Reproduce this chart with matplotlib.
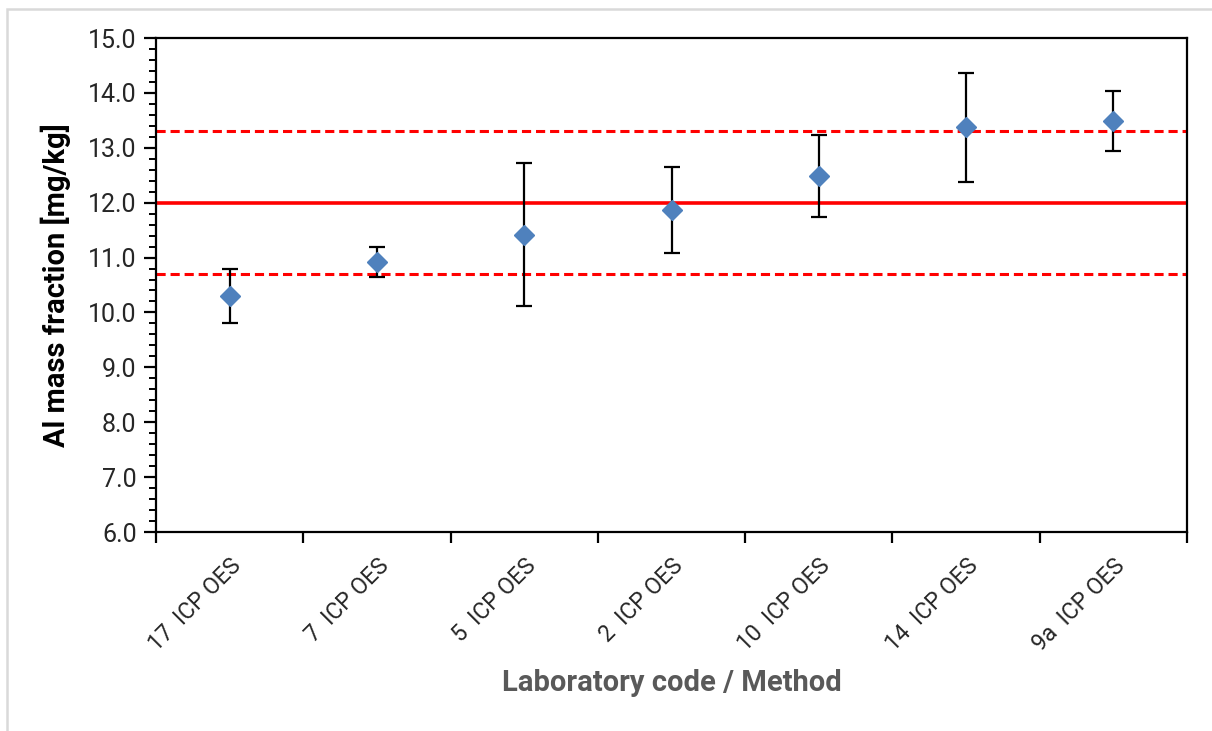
import matplotlib
matplotlib.use("Agg")
import matplotlib.pyplot as plt
from matplotlib.patches import Rectangle
from matplotlib.ticker import MultipleLocator, FixedLocator, NullFormatter, FormatStrFormatter

labs = ["17  ICP OES", "7  ICP OES", "5  ICP OES", "2  ICP OES",
        "10  ICP OES", "14  ICP OES", "9a  ICP OES"]
values = [10.30, 10.92, 11.42, 11.87, 12.49, 13.37, 13.49]
uncert = [0.49, 0.27, 1.30, 0.78, 0.75, 1.00, 0.54]
assigned = 12.0
lower_lim = 10.7
upper_lim = 13.3

plt.rcParams['font.family'] = ['Roboto', 'DejaVu Sans']

fig = plt.figure(figsize=(12.12, 7.31), dpi=100)
fig.patches.append(Rectangle((7/1212, -0.05), 1.1, 1 - 9/731 + 0.05, transform=fig.transFigure,
                             fill=False, edgecolor='#d9d9d9', linewidth=1.8))
ax = fig.add_axes([156/1212, 1-532/731, 1031/1212, 494/731])

n = len(labs)
x = list(range(n))
ax.set_xlim(-0.5, n - 0.5)
ax.set_ylim(6.0, 15.0)

ax.axhline(assigned, color='#ff0000', lw=2.6, zorder=2)
ax.axhline(upper_lim, color='#ff0000', lw=2.2, ls=(0, (3, 1.6)), zorder=2)
ax.axhline(lower_lim, color='#ff0000', lw=2.2, ls=(0, (3, 1.6)), zorder=2)

ax.errorbar(x, values, yerr=uncert, fmt='none', ecolor='black', elinewidth=1.6,
            capsize=6, capthick=1.6, zorder=3)
ax.plot(x, values, ls='none', marker='D', markersize=10, color='#4f81bd',
        markeredgecolor='#4f81bd', zorder=4)

for s in ax.spines.values():
    s.set_linewidth(1.6)
    s.set_color('black')

ax.yaxis.set_major_locator(MultipleLocator(1.0))
ax.yaxis.set_minor_locator(MultipleLocator(0.2))
ax.yaxis.set_major_formatter(FormatStrFormatter('%.1f'))
ax.tick_params(axis='y', which='major', direction='out', length=9, width=1.6,
               labelsize=18, pad=5, labelcolor='#262626')
ax.tick_params(axis='y', which='minor', direction='out', length=5, width=1.4)

ax.xaxis.set_major_locator(FixedLocator([i - 0.5 for i in range(n + 1)]))
ax.xaxis.set_major_formatter(NullFormatter())
ax.xaxis.set_minor_locator(FixedLocator(x))
ax.set_xticklabels(labs, minor=True, rotation=45, ha='right', rotation_mode='anchor',
                   fontsize=16.5, color='#262626')
ax.tick_params(axis='x', which='major', direction='out', length=8, width=1.6)
ax.tick_params(axis='x', which='minor', length=0, pad=16)

ax.set_ylabel("Al mass fraction [mg/kg]", fontsize=21, fontweight='bold', color='black',
              labelpad=12)
ax.set_xlabel("Laboratory code / Method", fontsize=21, fontweight='bold', color='#595959',
              labelpad=10)

fig.savefig("out.png", dpi=100)
